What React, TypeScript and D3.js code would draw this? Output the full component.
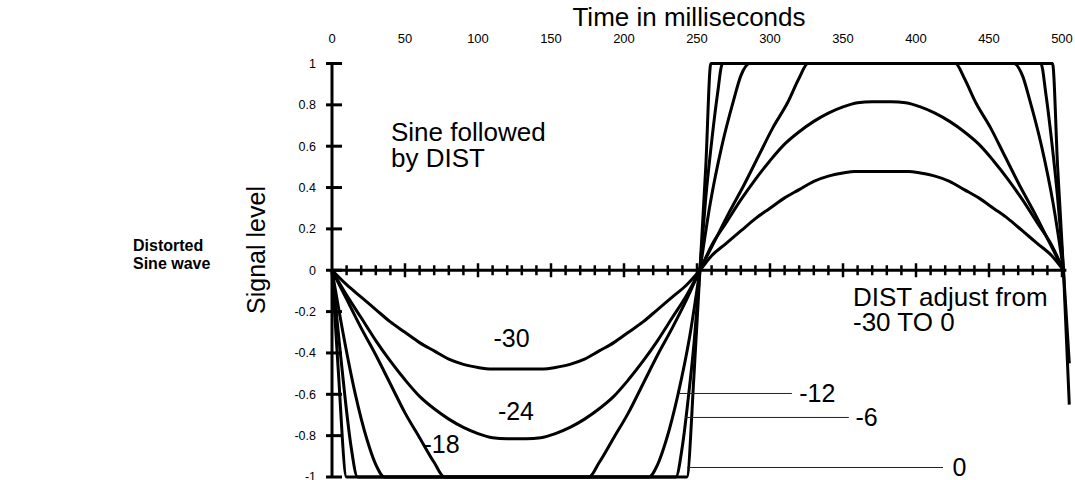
import * as d3 from "d3";

// DIST curves, [time in ms, signal level]
const dist30: [number, number][] = [
  [0, 0], [10, -0.07], [20, -0.13], [30, -0.19], [40, -0.25], [50, -0.3], [60, -0.35], [70, -0.39],
  [80, -0.43], [90, -0.455], [100, -0.47], [108, -0.478], [145, -0.478], [153, -0.47], [163, -0.455],
  [173, -0.43], [183, -0.39], [193, -0.35], [203, -0.3], [213, -0.25], [223, -0.19], [233, -0.13],
  [243, -0.07], [252, 0],
  [260, 0.07], [270, 0.13], [280, 0.19], [290, 0.25], [300, 0.3], [310, 0.35], [320, 0.39], [330, 0.43],
  [340, 0.455], [350, 0.47], [358, 0.478], [395, 0.478], [403, 0.47], [413, 0.455], [423, 0.43],
  [433, 0.39], [443, 0.35], [453, 0.3], [463, 0.25], [473, 0.19], [483, 0.13], [493, 0.07], [501, 0],
];
const dist24: [number, number][] = [
  [0, 0], [10, -0.12], [20, -0.23], [30, -0.34], [40, -0.44], [50, -0.53], [60, -0.61], [70, -0.67],
  [80, -0.72], [90, -0.76], [100, -0.79], [110, -0.81], [120, -0.815], [133, -0.815], [143, -0.81],
  [153, -0.79], [163, -0.76], [173, -0.72], [183, -0.67], [193, -0.61], [203, -0.53], [213, -0.44],
  [223, -0.34], [233, -0.23], [243, -0.12], [252, 0],
  [260, 0.12], [270, 0.23], [280, 0.34], [290, 0.44], [300, 0.53], [310, 0.61], [320, 0.67], [330, 0.72],
  [340, 0.76], [350, 0.79], [360, 0.81], [370, 0.815], [383, 0.815], [393, 0.81], [403, 0.79],
  [413, 0.76], [423, 0.72], [433, 0.67], [443, 0.61], [453, 0.53], [463, 0.44], [473, 0.34],
  [483, 0.23], [493, 0.12], [501, 0],
];
const dist18: [number, number][] = [
  [0, 0], [10, -0.14], [20, -0.28], [30, -0.41], [40, -0.55], [50, -0.69], [60, -0.81], [70, -0.93],
  [77, -1], [176, -1], [183, -0.93], [193, -0.81], [203, -0.69], [213, -0.55], [223, -0.41],
  [233, -0.28], [243, -0.14], [252, 0],
  [262, 0.14], [272, 0.28], [282, 0.41], [292, 0.55], [302, 0.69], [312, 0.81], [320, 0.93], [326, 1],
  [427, 1], [433, 0.93], [441, 0.81], [451, 0.69], [461, 0.55], [471, 0.41], [481, 0.28], [491, 0.14],
  [501, 0],
];
const dist12: [number, number][] = [
  [0, 0], [8, -0.32], [16, -0.6], [24, -0.82], [30, -0.94], [36, -1], [217, -1], [223, -0.94],
  [229, -0.82], [237, -0.6], [245, -0.32], [252, 0],
  [259, 0.32], [267, 0.6], [275, 0.82], [280, 0.94], [286, 1], [467, 1], [473, 0.94], [478, 0.82],
  [486, 0.6], [494, 0.32], [501, 0],
];
const dist6: [number, number][] = [
  [0, 0], [5, -0.35], [9, -0.62], [13, -0.85], [17.5, -1], [235.5, -1], [240, -0.85], [244, -0.62],
  [248, -0.35], [252, 0],
  [256, 0.35], [260, 0.62], [264, 0.85], [267.5, 1], [485.5, 1], [489, 0.85], [493, 0.62],
  [497, 0.35], [501, 0], [505, -0.45],
];
const dist0: [number, number][] = [
  [0, 0], [4, -0.45], [10, -1], [243, -1], [248, -0.5], [252, 0],
  [256, 0.5], [259.5, 1], [493.5, 1], [497, 0.5], [501, 0], [505, -0.65],
];

const curves = [dist30, dist24, dist18, dist12, dist6, dist0];

const xTickValues = [0, 50, 100, 150, 200, 250, 300, 350, 400, 450, 500];
const yTickValues = [1, 0.8, 0.6, 0.4, 0.2, 0, -0.2, -0.4, -0.6, -0.8, -1];
const yTickLabels = ["1", "0.8", "0.6", "0.4", "0.2", "0", "-0.2", "-0.4", "-0.6", "-0.8", "-1"];

// labels sitting inside the curves: [text, ms, level]
const innerLabels: [string, number, number][] = [
  ["-30", 123, -0.33],
  ["-24", 126, -0.68],
  ["-18", 75, -0.84],
];
// labels with a leader line: [text, curve ms, level, line end ms, label ms]
const leaderLabels: [string, number, number, number, number][] = [
  ["-12", 237.7, -0.596, 315, 320],
  ["-6", 241.8, -0.712, 354, 358.5],
  ["0", 243.2, -0.954, 418.5, 425],
];

const FONT = "'Liberation Sans', Arial, Helvetica, sans-serif";

export default function App() {
  const W = 1075, H = 480;
  const x = d3.scaleLinear().domain([0, 500]).range([332, 1062]);
  const y = d3.scaleLinear().domain([-1, 1]).range([477, 63.5]);

  const line = d3.line<[number, number]>()
    .x(d => x(d[0]))
    .y(d => y(d[1]))
    .curve(d3.curveMonotoneX);

  const minorTicks = d3.range(10, 506, 10);

  return (
    <svg width={W} height={H} style={{ position: "absolute", left: 0, top: 0, background: "#fff" }}
      fontFamily={FONT}>
      {/* curves */}
      {curves.map((c, i) => (
        <path key={i} d={line(c)!} fill="none" stroke="#000" strokeWidth={3}
          strokeLinejoin="round" />
      ))}

      {/* y axis */}
      <line x1={x(0)} x2={x(0)} y1={y(1)} y2={y(-1)} stroke="#000" strokeWidth={3} />
      {yTickValues.map((v, i) => (
        <g key={v}>
          <line x1={x(0) - 6} x2={x(0) + 10} y1={y(v)} y2={y(v)} stroke="#000" strokeWidth={3} />
          <text x={316} y={y(v)} dy="0.35em" textAnchor="end" fontSize={12.5}>{yTickLabels[i]}</text>
        </g>
      ))}

      {/* x axis along zero */}
      <line x1={x(0)} x2={x(503)} y1={y(0)} y2={y(0)} stroke="#000" strokeWidth={3} />
      {minorTicks.map(t => {
        const major = t % 50 === 0;
        return (
          <line key={t} x1={x(t)} x2={x(t)} y1={y(0) - (major ? 7 : 5)} y2={y(0) + (major ? 7 : 5)}
            stroke="#000" strokeWidth={2.5} />
        );
      })}
      {xTickValues.map(t => (
        <text key={t} x={x(t)} y={43} textAnchor="middle" fontSize={13}>{t}</text>
      ))}

      <text x={689} y={26} textAnchor="middle" fontSize={26}>Time in milliseconds</text>
      <text transform="translate(265,250) rotate(-90)" textAnchor="middle" fontSize={25}>Signal level</text>

      <text x={133} y={251} fontSize={16} fontWeight="bold">Distorted</text>
      <text x={133} y={269} fontSize={16} fontWeight="bold">Sine wave</text>

      <text x={391} y={141} fontSize={26}>Sine followed</text>
      <text x={391} y={167} fontSize={26}>by DIST</text>

      <text x={853} y={306} fontSize={26}>DIST adjust from</text>
      <text x={853} y={331} fontSize={26}>-30 TO 0</text>

      {innerLabels.map(([txt, t, v]) => (
        <text key={txt} x={x(t)} y={y(v)} dy="0.35em" textAnchor="middle" fontSize={25}>{txt}</text>
      ))}
      {leaderLabels.map(([txt, t0, v, t1, tl]) => (
        <g key={txt}>
          <line x1={x(t0)} x2={x(t1)} y1={y(v)} y2={y(v)} stroke="#222" strokeWidth={1} />
          <text x={x(tl)} y={y(v)} dy="0.35em" fontSize={25}>{txt}</text>
        </g>
      ))}
    </svg>
  );
}
